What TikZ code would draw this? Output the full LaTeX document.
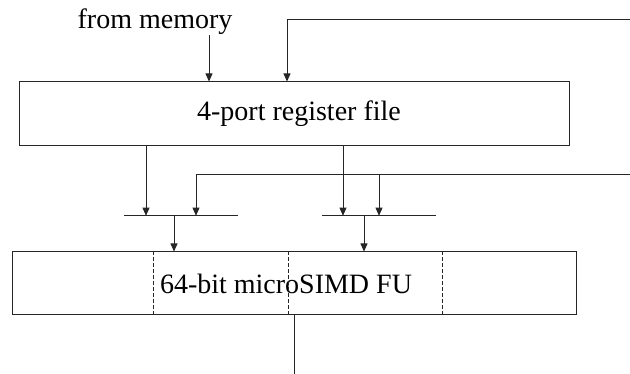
\documentclass[tikz,border=0pt]{standalone}
\usepackage{fontspec}
\setmainfont{Liberation Serif}
\usetikzlibrary{arrows.meta}
\begin{document}
\begin{tikzpicture}[x=1pt,y=-1pt,
    wire/.style={draw=black!85, line width=0.8pt},
    arr/.style={wire, -{Triangle[length=8pt,width=7pt]}},
    unit/.style={draw=black!85, line width=1pt, inner sep=0pt, font=\fontsize{28}{34}\selectfont}]
    \useasboundingbox (0,0) rectangle (630,374);
    % Register file
    \node[unit, minimum width=550pt, minimum height=64pt] (regfile) at (294,114) {\hspace*{10pt}4-port register file};
    \node[inner sep=0pt, font=\fontsize{28}{34}\selectfont] (mem) at (155,22) {from memory};
    \draw[arr] (209,0 |- mem.south) -- (209,0 |- regfile.north);
    % Feedback paths
    \coordinate (fbtop) at (630,19);
    \coordinate (fbmid) at (630,174);
    \draw[arr] (fbtop) -| (287,0 |- regfile.north);
    \draw[arr] (fbmid) -| (196,215.7);
    \draw[arr] (379,174) -- (379,215.7);
    % Operand buses
    \draw[wire] (124,215.7) -- (238,215.7);
    \draw[wire] (322,215.7) -- (436,215.7);
    \draw[arr] (146,0 |- regfile.south) -- (146,215.7);
    \draw[arr] (343,0 |- regfile.south) -- (343,215.7);
    % Functional unit
    \node[unit, minimum width=564pt, minimum height=63pt] (fu) at (294,283.5) {64-bit microSIMD FU\hspace*{16pt}};
    \foreach \x in {153,288,442}
        \draw[wire, dash pattern=on 4pt off 2pt] (\x,0 |- fu.north) -- (\x,0 |- fu.south);
    \draw[arr] (174,215.7) -- (174,0 |- fu.north);
    \draw[arr] (364,215.7) -- (364,0 |- fu.north);
    \coordinate (out) at (294,374);
    \draw[wire] (fu.south) -- (out);
\end{tikzpicture}
\end{document}
